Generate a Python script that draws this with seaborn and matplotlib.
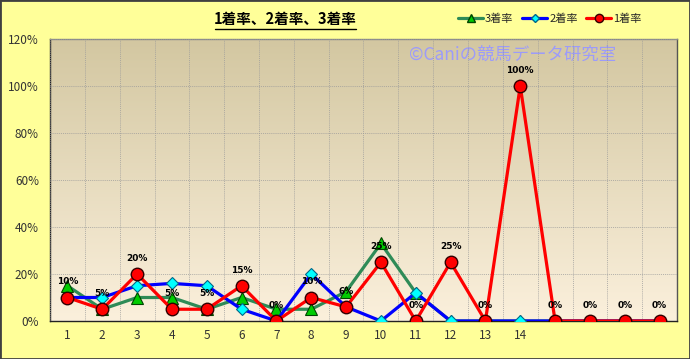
import numpy as np
import pandas as pd
import matplotlib
matplotlib.use("Agg")
import matplotlib.pyplot as plt
from matplotlib.lines import Line2D
from matplotlib.patches import Rectangle
import seaborn as sns

sns.set_theme(style="white")
plt.rcParams['font.family'] = ['Noto Sans CJK JP', 'DejaVu Sans']

categories = list(range(1, 19))
tick_labels = [str(i) for i in range(1, 15)] + ["", "", "", ""]
rate1 = [10, 5, 20, 5, 5, 15, 0, 10, 6, 25, 0, 25, 0, 100, 0, 0, 0, 0]
rate2 = [10, 10, 15, 16, 15, 5, 0, 20, 6, 0, 12, 0, 0, 0, 0, 0, 0, 0]
rate3 = [15, 5, 10, 10, 5, 10, 5, 5, 12.5, 33, 12, 0, 0, 0, 0, 0, 0, 0]
label1 = ["10%", "5%", "20%", "5%", "5%", "15%", "0%", "10%", "6%", "25%", "0%",
          "25%", "0%", "100%", "0%", "0%", "0%", "0%"]

df = pd.DataFrame({"cat": categories, "r1": rate1, "r2": rate2, "r3": rate3})

W, H = 690, 359
fig = plt.figure(figsize=(W / 100, H / 100), dpi=100, facecolor="#FFFF99")
ax = fig.add_axes([50 / W, 1 - 321 / H, 627 / W, 282 / H])

# gradient background
top = np.array([211, 199, 161]) / 255
bot = np.array([251, 240, 220]) / 255
t = np.linspace(0, 1, 200)[:, None]
grad = (top * (1 - t) + bot * t)[:, None, :]
ax.imshow(grad, extent=[0.5, 18.5, 0, 120], aspect="auto", zorder=0,
          origin="upper", interpolation="bilinear")

sns.lineplot(data=df, x="cat", y="r3", ax=ax, color="#2E8B57", linewidth=2.3,
             marker="^", markersize=8, markerfacecolor="#00CC00",
             markeredgecolor="#004400", markeredgewidth=0.8, zorder=3)
sns.lineplot(data=df, x="cat", y="r2", ax=ax, color="#0000FF", linewidth=2.3,
             marker="D", markersize=6, markerfacecolor="#00FFFF",
             markeredgecolor="#006688", markeredgewidth=0.8, zorder=4)
sns.lineplot(data=df, x="cat", y="r1", ax=ax, color="#FF0000", linewidth=2.3,
             marker="o", markersize=9, markerfacecolor="#FF0000",
             markeredgecolor="#330000", markeredgewidth=1.0, zorder=5)

for x, y, s in zip(categories, rate1, label1):
    ax.annotate(s, (x, y), xytext=(0, 8), textcoords="offset points",
                ha="center", va="bottom", fontsize=6.5, fontweight="bold",
                color="black", family="DejaVu Sans", zorder=6)

ax.set_xlim(0.5, 18.5)
ax.set_ylim(0, 120)
ax.set_xlabel("")
ax.set_ylabel("")
ax.set_yticks(range(0, 121, 20))
ax.set_yticklabels([f"{v}%" for v in range(0, 121, 20)], fontsize=8.5, color="#333333")
ax.set_xticks(np.arange(0.5, 18.6, 1))
ax.set_xticklabels([])
ax.set_xticks(categories, minor=True)
ax.set_xticklabels(tick_labels, minor=True, fontsize=8.5, color="#333333")
ax.tick_params(axis="x", which="major", length=4, width=0.8, color="#333333", direction="out")
ax.tick_params(axis="x", which="minor", length=0, pad=6)
ax.tick_params(axis="y", length=4, width=0.8, color="#333333", direction="out", pad=4)
ax.grid(True, which="major", linestyle=(0, (1.5, 1.5)), color="#9a9a9a", linewidth=0.5)
ax.set_axisbelow(False)
for gl in ax.get_xgridlines() + ax.get_ygridlines():
    gl.set_zorder(1)
ax.spines["left"].set_color("#222222")
ax.spines["bottom"].set_color("#222222")
ax.spines["top"].set_color("#888888")
ax.spines["right"].set_color("#555555")
for sp in ax.spines.values():
    sp.set_linewidth(1.0)
    sp.set_visible(True)

ax.text(0.573, 0.945, "©Caniの競馬データ研究室", transform=ax.transAxes,
        fontsize=12.5, color="#9999FF", alpha=0.95, ha="left", va="center", zorder=2)

# title with underline
fig.text(285 / W, 1 - 19 / H, "1着率、2着率、3着率", ha="center", va="center",
         fontsize=10.5, fontweight="bold", color="black")
fig.add_artist(Line2D([215 / W, 356 / W], [1 - 29 / H, 1 - 29 / H],
                      transform=fig.transFigure, color="black", linewidth=1.0))

handles = [
    Line2D([], [], color="#2E8B57", linewidth=2.3, marker="^", markersize=6,
           markerfacecolor="#00CC00", markeredgecolor="#004400"),
    Line2D([], [], color="#0000FF", linewidth=2.3, marker="D", markersize=4.5,
           markerfacecolor="#00FFFF", markeredgecolor="#006688"),
    Line2D([], [], color="#FF0000", linewidth=2.3, marker="o", markersize=6,
           markerfacecolor="#FF0000", markeredgecolor="#330000"),
]
fig.legend(handles, ["3着率", "2着率", "1着率"], loc="center", ncol=3,
           bbox_to_anchor=(550 / W, 1 - 19 / H), frameon=False, fontsize=8,
           handlelength=2.2, handletextpad=0.2, columnspacing=0.8)

fig.add_artist(Rectangle((0, 0), 1, 1, transform=fig.transFigure, fill=False,
                         edgecolor="#404040", linewidth=2))

fig.savefig("out.png", dpi=100, facecolor=fig.get_facecolor())
